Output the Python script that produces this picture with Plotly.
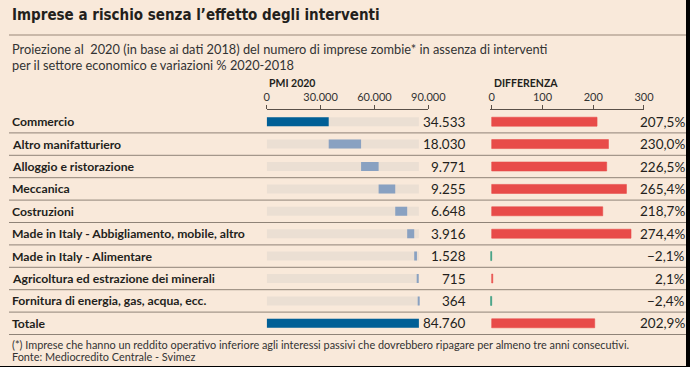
import plotly.graph_objects as go

categories = [
    "Commercio",
    "Altro manifatturiero",
    "Alloggio e ristorazione",
    "Meccanica",
    "Costruzioni",
    "Made in Italy - Abbigliamento, mobile, altro",
    "Made in Italy - Alimentare",
    "Agricoltura ed estrazione dei minerali",
    "Fornitura di energia, gas, acqua, ecc.",
    "Totale",
]
pmi_2020 = [34533, 18030, 9771, 9255, 6648, 3916, 1528, 715, 364, 84760]
pmi_labels = ["34.533", "18.030", "9.771", "9.255", "6.648", "3.916", "1.528", "715", "364", "84.760"]
differenza = [207.5, 230.0, 226.5, 265.4, 218.7, 274.4, -2.1, 2.1, -2.4, 202.9]
diff_labels = ["207,5%", "230,0%", "226,5%", "265,4%", "218,7%", "274,4%", "\u22122,1%", "2,1%", "\u22122,4%", "202,9%"]
pmi_ticks = [0, 30000, 60000, 90000]
pmi_ticktext = ["0", "30.000", "60.000", "90.000"]
diff_ticks = [0, 100, 200, 300]
diff_ticktext = ["0", "100", "200", "300"]

W, H = 686, 366
BG = "#f9e9da"
TRACK = "#ebdfd3"
DARK = "#005f96"
LIGHT = "#89a1c1"
RED = "#e84b49"
GREEN = "#2f9a7c"
TXT = "#231f1c"
LINE = "#8f8377"
FONT = "Lato"
TITLE_FONT = "DejaVu Sans Condensed, Roboto Condensed, Lato"

def px(x):
    return x / W

def py(y):
    return 1 - y / H

# waterfall bases
bases = []
acc = 0
for i, v in enumerate(pmi_2020):
    if i == len(pmi_2020) - 1:
        bases.append(0)
    else:
        bases.append(acc)
        acc += v
bar_colors = [DARK] + [LIGHT] * (len(pmi_2020) - 2) + [DARK]
total = pmi_2020[-1]
diff_colors = [RED if d >= 0 else GREEN for d in differenza]

fig = go.Figure()
fig.add_trace(go.Bar(
    y=categories, x=[total] * len(categories), base=0, orientation="h",
    marker=dict(color=TRACK, line=dict(width=0)), width=0.4,
    xaxis="x", yaxis="y", hoverinfo="skip", showlegend=False))
fig.add_trace(go.Bar(
    y=categories, x=pmi_2020, base=bases, orientation="h",
    marker=dict(color=bar_colors, line=dict(width=0)), width=0.4,
    xaxis="x", yaxis="y", showlegend=False))
fig.add_trace(go.Bar(
    y=categories, x=differenza, orientation="h",
    marker=dict(color=diff_colors, line=dict(color=diff_colors, width=0.6)),
    width=0.4, xaxis="x2", yaxis="y", showlegend=False))

# geometry
x1_0, x1_1 = 266.7, 428.3
x2_0, x2_300 = 491.7, 644.0
d_min = -3
x2_start = x2_0 + d_min * (x2_300 - x2_0) / 300
row0, rowN = 121.7, 323.3
step = (rowN - row0) / (len(categories) - 1)
axis_y = 110
bottom_px = 340
r_top = -(row0 - axis_y) / step
r_bot = (len(categories) - 1) + (bottom_px - rowN) / step

axis_common = dict(
    side="top", showline=True, linecolor="#5a5048", linewidth=1,
    ticks="outside", ticklen=4, tickcolor="#5a5048", tickwidth=1,
    showgrid=False, zeroline=False, fixedrange=True, automargin=False,
    tickfont=dict(family=FONT, size=11, color="#333333"),
    anchor="y",
)
fig.update_layout(
    template="none",
    width=W, height=H,
    margin=dict(l=0, r=0, t=0, b=0, pad=0, autoexpand=False),
    paper_bgcolor=BG, plot_bgcolor="rgba(0,0,0,0)",
    barmode="overlay", showlegend=False,
    font=dict(family=FONT, color=TXT),
    xaxis=dict(domain=[px(x1_0), px(x1_1)], range=[0, 90000],
               tickvals=pmi_ticks, ticktext=pmi_ticktext, **axis_common),
    xaxis2=dict(domain=[px(x2_start), px(x2_300)], range=[d_min, 300],
                tickvals=diff_ticks, ticktext=diff_ticktext, **axis_common),
    yaxis=dict(domain=[py(bottom_px), py(axis_y)], range=[r_bot, r_top],
               showticklabels=False, showgrid=False, zeroline=False,
               showline=False, ticks="", fixedrange=True, automargin=False,
               categoryorder="array", categoryarray=categories),
)

ann = []
shapes = []
# title
ann.append(dict(x=px(10), y=py(15.5), xref="paper", yref="paper", xanchor="left", yanchor="middle",
                text="<b>Imprese a rischio senza l\u2019effetto degli interventi</b>", showarrow=False,
                font=dict(family=TITLE_FONT, size=15, color=TXT)))
shapes.append(dict(type="line", xref="paper", yref="paper", x0=px(9), x1=1, y0=py(35), y1=py(35),
                   line=dict(color="#9a8878", width=1.2)))
# subtitle
ann.append(dict(x=px(10), y=py(49), xref="paper", yref="paper", xanchor="left", yanchor="middle",
                text="Proiezione al  2020 (in base ai dati 2018) del numero di imprese zombie* in assenza di interventi",
                showarrow=False, font=dict(family=FONT, size=12.8, color="#333333")))
ann.append(dict(x=px(10), y=py(65), xref="paper", yref="paper", xanchor="left", yanchor="middle",
                text="per il settore economico e variazioni % 2020-2018",
                showarrow=False, font=dict(family=FONT, size=12.8, color="#333333")))
# headers
ann.append(dict(x=px(x1_0), y=py(83), xref="paper", yref="paper", xanchor="left", yanchor="middle",
                text="<b>PMI 2020</b>", showarrow=False, font=dict(family=FONT, size=10.5, color=TXT)))
ann.append(dict(x=px(x2_0), y=py(83), xref="paper", yref="paper", xanchor="left", yanchor="middle",
                text="<b>DIFFERENZA</b>", showarrow=False, font=dict(family=FONT, size=10.5, color=TXT)))
# rows
for i, c in enumerate(categories):
    ann.append(dict(x=px(10), y=c, xref="paper", yref="y", xanchor="left", yanchor="middle",
                    text="<b>" + c + "</b>", showarrow=False, font=dict(family=FONT, size=12.2, color=TXT)))
    ann.append(dict(x=px(468), y=c, xref="paper", yref="y", xanchor="right", yanchor="middle",
                    text=pmi_labels[i], showarrow=False, font=dict(family=FONT, size=13.5, color=TXT)))
    ann.append(dict(x=px(686.5), y=c, xref="paper", yref="y", xanchor="right", yanchor="middle",
                    text=diff_labels[i], showarrow=False, font=dict(family=FONT, size=13.5, color=TXT)))
    shapes.append(dict(type="line", xref="paper", yref="y", x0=px(9), x1=1, y0=i + 0.5, y1=i + 0.5,
                       line=dict(color=LINE, width=1)))
# footnote
ann.append(dict(x=px(10), y=py(344.5), xref="paper", yref="paper", xanchor="left", yanchor="middle",
                text="(*) Imprese che hanno un reddito operativo inferiore agli interessi passivi che dovrebbero ripagare per almeno tre anni consecutivi.",
                showarrow=False, font=dict(family=FONT, size=10.9, color="#333333")))
ann.append(dict(x=px(10), y=py(356.5), xref="paper", yref="paper", xanchor="left", yanchor="middle",
                text="Fonte: Mediocredito Centrale - Svimez",
                showarrow=False, font=dict(family=FONT, size=10.9, color="#333333")))

fig.update_layout(annotations=ann, shapes=shapes)
fig.write_html(
    "out.html",
    config={"displayModeBar": False},
    post_script="document.body.style.margin='0';document.body.style.background='#000';document.body.style.overflow='hidden';",
)
